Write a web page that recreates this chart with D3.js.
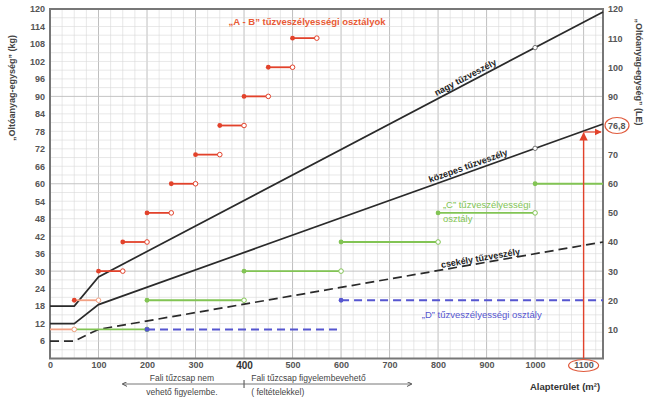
<!DOCTYPE html>
<html>
<head>
<meta charset="utf-8">
<script src="https://d3js.org/d3.v7.min.js"></script>
<style>
    body { margin: 0; background: #fff; }
    svg text { font-family: 'Liberation Sans', Arial, sans-serif; }
    .tick text { font-size: 9px; font-weight: bold; fill: #555; }
</style>
</head>
<body>
<svg width="656" height="398"></svg>
<script>
    // hazard curves (x in m2, y in units)
    var hazardX = [0, 50, 100, 1140];
    var nagy = [18, 18, 28, 119];
    var kozepes = [12, 12, 18.5, 80.5];
    var csekely = [6, 6, 10, 40];

    // "A - B" classes
    var abValues = [10, 20, 30, 40, 50, 60, 70, 80, 90, 100, 110];
    var abFrom = [0, 50, 100, 150, 200, 250, 300, 350, 400, 450, 500];
    var abTo = [50, 100, 150, 200, 250, 300, 350, 400, 450, 500, 550];

    // "C" class
    var cValues = [10, 20, 30, 40, 50, 60];
    var cFrom = [50, 200, 400, 600, 800, 1000];
    var cTo = [200, 400, 600, 800, 1000, 1140];

    // "D" class
    var dValues = [10, 20];
    var dFrom = [200, 600];
    var dTo = [600, 1140];

    var xTicks = [0, 100, 200, 300, 400, 500, 600, 700, 800, 900, 1000, 1100];
    var leftTicks = [6, 12, 18, 24, 30, 36, 42, 48, 54, 60, 66, 72, 78, 84, 90, 96, 102, 108, 114, 120];
    var rightTicks = [10, 20, 30, 40, 50, 60, 70, 80, 90, 100, 110, 120];
    var rightLabels = ["10", "20", "30", "40", "50", "60", "70", "76,8", "90", "100", "110", "120"];

    var svg = d3.select("svg");
    var x = d3.scaleLinear().domain([0, 1140]).range([50, 603]);
    var y = d3.scaleLinear().domain([0, 120]).range([358.5, 9]);

    var cRed = "#e2422b", cSalmon = "#f3a184", cGreen = "#82c454", cBlue = "#5656d0";

    var defs = svg.append("defs");
    defs.append("marker").attr("id", "arr")
        .attr("viewBox", "0 0 10 10").attr("refX", 9).attr("refY", 5)
        .attr("markerWidth", 6).attr("markerHeight", 6).attr("orient", "auto")
        .append("path").attr("d", "M0,0L10,5L0,10z").attr("fill", cRed);
    defs.append("marker").attr("id", "arrG")
        .attr("viewBox", "0 0 10 10").attr("refX", 9).attr("refY", 5)
        .attr("markerWidth", 5).attr("markerHeight", 5).attr("orient", "auto")
        .append("path").attr("d", "M0,0L10,5L0,10").attr("fill", "none")
        .attr("stroke", "#555").attr("stroke-width", 2);

    // grid
    var grid = svg.append("g");
    grid.selectAll(".vg").data(d3.range(25, 1140, 25)).enter().append("line")
        .attr("x1", d => x(d)).attr("x2", d => x(d))
        .attr("y1", y(0)).attr("y2", y(120))
        .attr("stroke", d => d % 100 == 0 ? "#b8b8b8" : "#d9d9d9")
        .attr("stroke-width", d => d % 100 == 0 ? 0.9 : 0.6);
    grid.selectAll(".hg").data(d3.range(3, 120, 3)).enter().append("line")
        .attr("x1", x(0)).attr("x2", x(1140))
        .attr("y1", d => y(d)).attr("y2", d => y(d))
        .attr("stroke", d => d % 30 == 0 ? "#bdbdbd" : "#d9d9d9")
        .attr("stroke-width", d => d % 30 == 0 ? 0.9 : 0.6);

    // frame
    svg.append("rect")
        .attr("x", x(0)).attr("y", y(120))
        .attr("width", x(1140) - x(0)).attr("height", y(0) - y(120))
        .attr("fill", "none").attr("stroke", "#777").attr("stroke-width", 2);

    // axes
    var xAxis = svg.append("g")
        .attr("transform", "translate(0," + (y(0) + 1) + ")")
        .call(d3.axisBottom(x).tickValues(xTicks).tickSize(0).tickPadding(2).tickFormat(d3.format("d")));
    xAxis.select(".domain").remove();
    xAxis.selectAll(".tick text").filter(d => d == 400)
        .style("font-size", "10px").style("fill", "#333");

    var yAxisL = svg.append("g")
        .attr("transform", "translate(" + (x(0) - 2) + ",0)")
        .call(d3.axisLeft(y).tickValues(leftTicks).tickSize(0).tickPadding(3));
    yAxisL.select(".domain").remove();

    var yAxisR = svg.append("g")
        .attr("transform", "translate(" + (x(1140) + 2) + ",0)")
        .call(d3.axisRight(y).tickValues(rightTicks).tickSize(0).tickPadding(3)
            .tickFormat((d, i) => rightLabels[i]));
    yAxisR.select(".domain").remove();

    // hazard curves
    function curve(vals) {
        return d3.line().x((d, i) => x(hazardX[i])).y(d => y(d))(vals);
    }
    svg.append("path").attr("d", curve(nagy)).attr("fill", "none")
        .attr("stroke", "#2a2a2a").attr("stroke-width", 1.7);
    svg.append("path").attr("d", curve(kozepes)).attr("fill", "none")
        .attr("stroke", "#2a2a2a").attr("stroke-width", 1.7);
    svg.append("path").attr("d", curve(csekely)).attr("fill", "none")
        .attr("stroke", "#2a2a2a").attr("stroke-width", 1.7).attr("stroke-dasharray", "9,5");

    function valAt(vals, m) {
        return d3.scaleLinear().domain(hazardX).range(vals)(m);
    }
    [nagy, kozepes].forEach(function (vals) {
        svg.append("circle").attr("cx", x(1000)).attr("cy", y(valAt(vals, 1000)))
            .attr("r", 2.2).attr("fill", "#fff").attr("stroke", "#555").attr("stroke-width", 0.8);
    });

    // class segments
    function segments(values, from, to, color, dash, lightFn) {
        var g = svg.append("g");
        values.forEach(function (v, i) {
            var col = lightFn && lightFn(i) ? cSalmon : color;
            g.append("line")
                .attr("x1", x(from[i])).attr("x2", x(to[i]))
                .attr("y1", y(v)).attr("y2", y(v))
                .attr("stroke", col).attr("stroke-width", dash ? 2 : 1.8)
                .attr("stroke-dasharray", dash ? "8,5" : null);
            if (from[i] > 0) {
                g.append("circle").attr("cx", x(from[i])).attr("cy", y(v)).attr("r", 2.4)
                    .attr("fill", dash ? color : (col == cSalmon ? cRed : color));
            }
            if (to[i] < 1140 && !dash) {
                g.append("circle").attr("cx", x(to[i])).attr("cy", y(v)).attr("r", 2.3)
                    .attr("fill", "#fff").attr("stroke", col).attr("stroke-width", 1);
            }
        });
    }
    segments(cValues, cFrom, cTo, cGreen, false);
    segments(dValues, dFrom, dTo, cBlue, true);
    segments(abValues, abFrom, abTo, cRed, false, i => i < 2);

    // hazard labels along the curves
    function lineLabel(vals, m, txt, off) {
        var ang = Math.atan2(y(valAt(vals, 1140)) - y(valAt(vals, 100)), x(1140) - x(100)) * 180 / Math.PI;
        svg.append("text")
            .attr("transform", "translate(" + x(m) + "," + y(valAt(vals, m)) + ")rotate(" + ang + ")")
            .attr("dy", off).attr("text-anchor", "middle")
            .style("font-size", "9px").style("font-weight", "bold").attr("fill", "#222")
            .text(txt);
    }
    lineLabel(nagy, 862, "nagy tűzveszély", -3);
    lineLabel(kozepes, 866, "közepes tűzveszély", -3);
    lineLabel(csekely, 889, "csekély tűzveszély", -2);

    // class labels
    svg.append("text").attr("x", x(530)).attr("y", 25).attr("text-anchor", "middle")
        .style("font-size", "9.5px").style("font-weight", "bold").attr("fill", "#e85a36")
        .text("„A - B” tűzveszélyességi osztályok");
    svg.append("text").attr("x", x(810)).attr("y", y(50) - 5)
        .style("font-size", "9.5px").attr("fill", cGreen)
        .text("„C” tűzveszélyességi");
    svg.append("text").attr("x", x(810)).attr("y", y(50) + 9)
        .style("font-size", "9.5px").attr("fill", cGreen)
        .text("osztály");
    svg.append("text").attr("x", x(890)).attr("y", y(20) + 18).attr("text-anchor", "middle")
        .style("font-size", "9.5px").attr("fill", cBlue)
        .text("„D” tűzveszélyességi osztály");

    // red marker for 1100 m2
    svg.append("line").attr("x1", x(1100)).attr("x2", x(1100))
        .attr("y1", y(0)).attr("y2", y(valAt(kozepes, 1100)) + 2)
        .attr("stroke", cRed).attr("stroke-width", 1.4).attr("marker-end", "url(#arr)");
    svg.append("line").attr("x1", x(1100)).attr("x2", x(1140) - 2)
        .attr("y1", y(valAt(kozepes, 1100)) + 1).attr("y2", y(valAt(kozepes, 1100)) + 1)
        .attr("stroke", cRed).attr("stroke-width", 1.2).attr("marker-end", "url(#arr)");
    svg.append("ellipse").attr("cx", x(1100)).attr("cy", y(0) + 7).attr("rx", 15).attr("ry", 6)
        .attr("fill", "none").attr("stroke", "#e05a3c").attr("stroke-width", 1.2);
    svg.append("ellipse").attr("cx", x(1140) + 14).attr("cy", y(80)).attr("rx", 12).attr("ry", 8)
        .attr("fill", "none").attr("stroke", "#e05a3c").attr("stroke-width", 1.2);

    // axis titles
    svg.append("text").attr("transform", "translate(15,88)rotate(-90)")
        .attr("text-anchor", "middle").style("font-size", "9px").style("font-weight", "bold")
        .attr("fill", "#444").text("„Oltóanyag-egység” (kg)");
    svg.append("text").attr("transform", "translate(636,72)rotate(90)")
        .attr("text-anchor", "middle").style("font-size", "9px").style("font-weight", "bold")
        .attr("fill", "#444").text("„Oltóanyag-egység” (LE)");
    svg.append("text").attr("x", 565).attr("y", 390).attr("text-anchor", "middle")
        .style("font-size", "9.5px").style("font-weight", "bold").attr("fill", "#333")
        .text("Alapterület (m²)");

    // bottom hydrant notes
    svg.append("line").attr("x1", x(400)).attr("x2", x(150))
        .attr("y1", 384).attr("y2", 384).attr("stroke", "#777").attr("stroke-width", 1)
        .attr("marker-end", "url(#arrG)");
    svg.append("line").attr("x1", x(400)).attr("x2", x(745))
        .attr("y1", 384).attr("y2", 384).attr("stroke", "#777").attr("stroke-width", 1)
        .attr("marker-end", "url(#arrG)");
    svg.append("line").attr("x1", x(400)).attr("x2", x(400)).attr("y1", 380).attr("y2", 388)
        .attr("stroke", "#666").attr("stroke-width", 1.2);
    var note = svg.append("g").style("font-size", "8.5px").attr("fill", "#444");
    note.append("text").attr("x", x(272)).attr("y", 381).attr("text-anchor", "middle").text("Fali tűzcsap nem");
    note.append("text").attr("x", x(272)).attr("y", 395).attr("text-anchor", "middle").text("vehető figyelembe.");
    note.append("text").attr("x", x(415)).attr("y", 381).text("Fali tűzcsap figyelembevehető");
    note.append("text").attr("x", x(415)).attr("y", 395).text("( feltételekkel)");
</script>
</body>
</html>
